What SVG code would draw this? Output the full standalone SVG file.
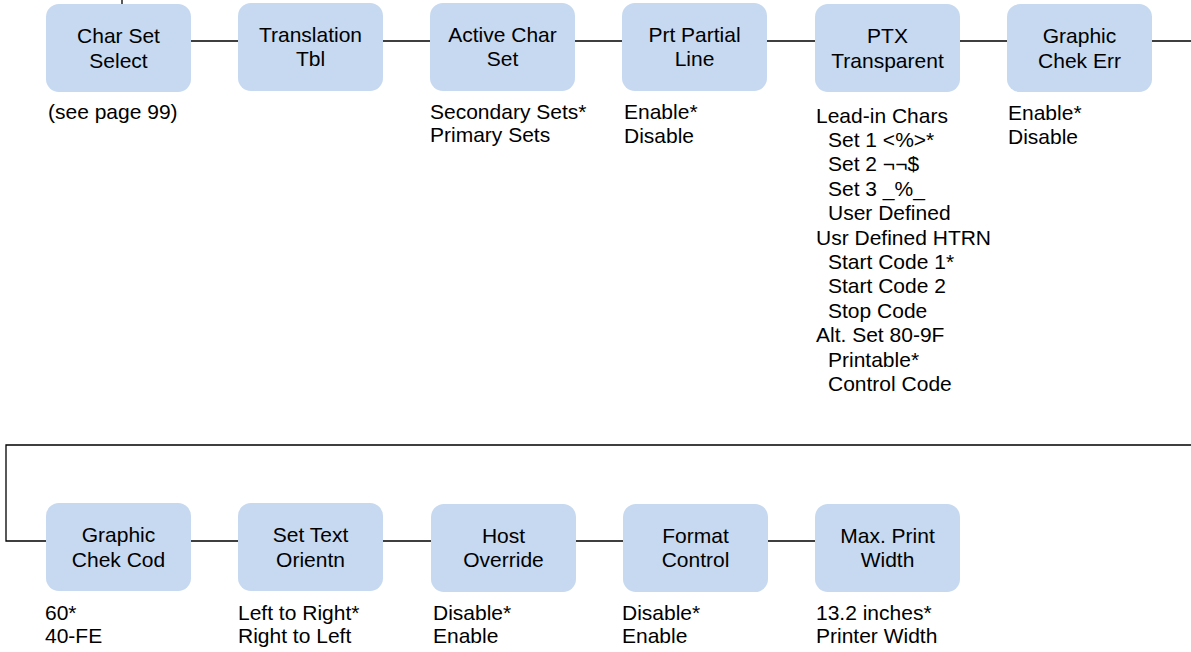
<svg xmlns="http://www.w3.org/2000/svg" width="1191" height="652" viewBox="0 0 1191 652">
<style>
.box{fill:#C6D9F0;}
.lbl{font-family:"Liberation Sans",Arial,sans-serif;font-size:21px;fill:#000;text-anchor:middle;}
.opt{font-family:"Liberation Sans",Arial,sans-serif;font-size:21px;fill:#000;}
.con{fill:none;stroke:#000;stroke-width:1.3;}
</style>
<rect width="1191" height="652" fill="#fff"/>
<g id="connectors">
<path class="con" d="M122,0V4"/>
<path class="con" d="M191,41H238M383,41H430M575,41H622M767,41H815M960,41H1007M1152,41H1191"/>
<path class="con" d="M1191,445H6V541H46M191,541H238M383,541H431M576,541H623M768,541H815"/>
</g>
<g id="charsetselect">
<rect class="box" x="46" y="4" width="145" height="88" rx="13"/>
<text class="lbl" x="118.5" y="43">Char Set</text>
<text class="lbl" x="118.5" y="68">Select</text>
<text class="opt" x="48" y="119">(see page 99)</text>
</g>
<g id="translationtbl">
<rect class="box" x="238" y="3" width="145" height="88" rx="13"/>
<text class="lbl" x="310.5" y="42">Translation</text>
<text class="lbl" x="310.5" y="66">Tbl</text>
</g>
<g id="activecharset">
<rect class="box" x="430" y="3" width="145" height="88" rx="13"/>
<text class="lbl" x="502.5" y="42">Active Char</text>
<text class="lbl" x="502.5" y="66">Set</text>
<text class="opt" x="430" y="118.5">Secondary Sets*</text>
<text class="opt" x="430" y="142">Primary Sets</text>
</g>
<g id="prtpartialline">
<rect class="box" x="622" y="3" width="145" height="88" rx="13"/>
<text class="lbl" x="694.5" y="42">Prt Partial</text>
<text class="lbl" x="694.5" y="66">Line</text>
<text class="opt" x="624" y="119">Enable*</text>
<text class="opt" x="624" y="142.5">Disable</text>
</g>
<g id="ptxtransparent">
<rect class="box" x="815" y="4" width="145" height="88" rx="13"/>
<text class="lbl" x="887.5" y="43">PTX</text>
<text class="lbl" x="887.5" y="68">Transparent</text>
<text class="opt" x="816" y="122.5">Lead-in Chars</text>
<text class="opt" x="828" y="146.9">Set 1 &lt;%&gt;*</text>
<text class="opt" x="828" y="171.3">Set 2 ¬¬$</text>
<text class="opt" x="828" y="195.7">Set 3 _%_</text>
<text class="opt" x="828" y="220.1">User Defined</text>
<text class="opt" x="816" y="244.5">Usr Defined HTRN</text>
<text class="opt" x="828" y="268.9">Start Code 1*</text>
<text class="opt" x="828" y="293.3">Start Code 2</text>
<text class="opt" x="828" y="317.7">Stop Code</text>
<text class="opt" x="816" y="342.1">Alt. Set 80-9F</text>
<text class="opt" x="828" y="366.5">Printable*</text>
<text class="opt" x="828" y="390.9">Control Code</text>
</g>
<g id="graphicchekerr">
<rect class="box" x="1007" y="4" width="145" height="88" rx="13"/>
<text class="lbl" x="1079.5" y="43">Graphic</text>
<text class="lbl" x="1079.5" y="68">Chek Err</text>
<text class="opt" x="1008" y="120">Enable*</text>
<text class="opt" x="1008" y="144">Disable</text>
</g>
<g id="graphicchekcod">
<rect class="box" x="46" y="503" width="145" height="88" rx="13"/>
<text class="lbl" x="118.5" y="542">Graphic</text>
<text class="lbl" x="118.5" y="567">Chek Cod</text>
<text class="opt" x="45" y="619.5">60*</text>
<text class="opt" x="45" y="643">40-FE</text>
</g>
<g id="settextorientn">
<rect class="box" x="238" y="503" width="145" height="88" rx="13"/>
<text class="lbl" x="310.5" y="542">Set Text</text>
<text class="lbl" x="310.5" y="567">Orientn</text>
<text class="opt" x="238" y="619.5">Left to Right*</text>
<text class="opt" x="238" y="643">Right to Left</text>
</g>
<g id="hostoverride">
<rect class="box" x="431" y="504" width="145" height="88" rx="13"/>
<text class="lbl" x="503.5" y="543">Host</text>
<text class="lbl" x="503.5" y="567">Override</text>
<text class="opt" x="433" y="619.5">Disable*</text>
<text class="opt" x="433" y="643">Enable</text>
</g>
<g id="formatcontrol">
<rect class="box" x="623" y="504" width="145" height="88" rx="13"/>
<text class="lbl" x="695.5" y="543">Format</text>
<text class="lbl" x="695.5" y="567">Control</text>
<text class="opt" x="622" y="619.5">Disable*</text>
<text class="opt" x="622" y="643">Enable</text>
</g>
<g id="maxprintwidth">
<rect class="box" x="815" y="504" width="145" height="88" rx="13"/>
<text class="lbl" x="887.5" y="543">Max. Print</text>
<text class="lbl" x="887.5" y="567">Width</text>
<text class="opt" x="816" y="619.5">13.2 inches*</text>
<text class="opt" x="816" y="643">Printer Width</text>
</g>
</svg>
